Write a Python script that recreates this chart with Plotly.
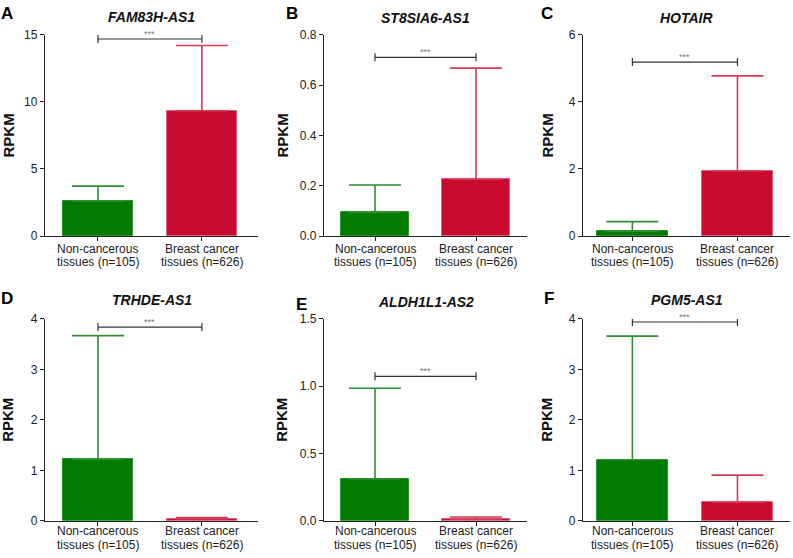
import plotly.graph_objects as go

W, H = 793, 558

letters = ["A", "B", "C", "D", "E", "F"]
genes = ["FAM83H-AS1", "ST8SIA6-AS1", "HOTAIR", "TRHDE-AS1", "ALDH1L1-AS2", "PGM5-AS1"]
cat_line1 = ["Non-cancerous", "Breast cancer"]
cat_line2 = ["tissues (n=105)", "tissues (n=626)"]
normal_mean = [2.62, 0.094, 0.14, 1.22, 0.31, 1.21]
normal_err_top = [3.72, 0.203, 0.43, 3.67, 0.985, 3.66]
cancer_mean = [9.35, 0.226, 1.94, 0.035, 0.012, 0.37]
cancer_err_top = [14.22, 0.668, 4.78, 0.065, 0.028, 0.905]
bracket_y = [14.7, 0.711, 5.19, 3.84, 1.074, 3.94]
sig_text = ["***"] * 6
y_title = "RPKM"
y_max = [15, 0.8, 6, 4, 1.5, 4]
y_dtick = [5, 0.2, 2, 1, 0.5, 1]
y_fmt = ["d", ".1f", "d", "d", ".1f", "d"]

GREEN = "#007a00"
RED = "#c80a2e"
GREEN_E = "#2e8f2e"
RED_E = "#d63a55"

# panel pixel boxes
cols = [(45, 258), (324, 527), (583, 790)]
rows = [(28.7, 234.9), (320, 527)]
label_off = [(13, 27), (10.5, 24.5)]
ytitle_x = [8, 282, 547]
xr = [(-0.51, 1.54), (-0.505, 1.505), (-0.47, 1.5)]
letter_pos = [(7, 7), (292, 7), (547, 7), (7, 299), (301, 305), (549, 299)]
title_y = [10, 11, 11, 301, 303, 301]

fig = go.Figure()
shapes = []
annotations = []
font = "Liberation Sans, Arial, sans-serif"

for i in range(6):
    r, c = divmod(i, 3)
    n = i + 1
    xa = "x" if n == 1 else f"x{n}"
    ya = "y" if n == 1 else f"y{n}"
    L, R = cols[c]
    T, B = rows[r]
    fig.add_trace(go.Bar(
        x=[0], y=[normal_mean[i]], xaxis=xa, yaxis=ya, width=0.67,
        marker=dict(color=GREEN, line=dict(color="#2a942a", width=1)),
        error_y=dict(type="data", symmetric=False,
                     array=[normal_err_top[i] - normal_mean[i]], arrayminus=[0],
                     color=GREEN_E, thickness=1.6, width=26),
        showlegend=False, hoverinfo="skip"))
    fig.add_trace(go.Bar(
        x=[1], y=[cancer_mean[i]], xaxis=xa, yaxis=ya, width=0.67,
        marker=dict(color=RED, line=dict(color="#e0607a", width=1)),
        error_y=dict(type="data", symmetric=False,
                     array=[cancer_err_top[i] - cancer_mean[i]], arrayminus=[0],
                     color=RED_E, thickness=1.6, width=26),
        showlegend=False, hoverinfo="skip"))
    # significance bracket
    fig.add_trace(go.Scatter(
        x=[0, 1], y=[bracket_y[i], bracket_y[i]], xaxis=xa, yaxis=ya,
        mode="lines", line=dict(color="#333333", width=1.2),
        showlegend=False, hoverinfo="skip"))
    for xv in (0, 1):
        shapes.append(dict(type="line", xref=xa, yref=ya, x0=xv, x1=xv,
                           ysizemode="pixel", yanchor=bracket_y[i], y0=-4, y1=4,
                           line=dict(color="#333333", width=1.2)))
    annotations.append(dict(xref=xa, yref=ya, x=0.5, y=bracket_y[i], text=sig_text[i],
                            showarrow=False, yanchor="bottom", yshift=-2,
                            font=dict(family=font, size=9, color="#777777")))
    annotations.append(dict(xref=f"{xa} domain", yref="paper", x=0.5,
                            y=1 - title_y[i] / H, text=f"<b><i>{genes[i]}</i></b>",
                            showarrow=False, yanchor="middle",
                            font=dict(family=font, size=14, color="#111111")))
    lx, ly = letter_pos[i]
    annotations.append(dict(xref="paper", yref="paper", x=lx / W, y=1 - ly / H,
                            text=f"<b>{letters[i]}</b>", showarrow=False,
                            xanchor="center", yanchor="middle",
                            font=dict(family=font, size=17, color="#000000")))
    # y-axis title
    annotations.append(dict(xref="paper", yref="paper", x=ytitle_x[c] / W,
                            y=1 - (T + B) / 2 / H, text=f"<b>{y_title}</b>",
                            textangle=-90, showarrow=False,
                            xanchor="center", yanchor="middle",
                            font=dict(family=font, size=15, color="#111111")))
    # category labels (two tight lines)
    o1, o2 = label_off[r]
    for k in range(2):
        annotations.append(dict(xref=xa, yref="paper", x=k, y=1 - (B + o1) / H,
                                text=cat_line1[k], showarrow=False, yanchor="middle",
                                borderpad=0,
                                font=dict(family=font, size=12, color="#222222")))
        annotations.append(dict(xref=xa, yref="paper", x=k, y=1 - (B + o2) / H,
                                text=cat_line2[k], showarrow=False, yanchor="middle",
                                borderpad=0,
                                font=dict(family=font, size=12, color="#222222")))
    xkey = "xaxis" if n == 1 else f"xaxis{n}"
    ykey = "yaxis" if n == 1 else f"yaxis{n}"
    fig.layout[xkey] = dict(
        domain=[L / W, R / W], anchor=ya, range=list(xr[c]),
        tickvals=[0, 1], showticklabels=False, showline=True, linecolor="#222222",
        linewidth=1.3, ticks="outside", ticklen=4, tickcolor="#222222",
        showgrid=False, zeroline=False, fixedrange=True)
    fig.layout[ykey] = dict(
        domain=[1 - B / H, 1 - T / H], anchor=xa, range=[0, y_max[i]],
        dtick=y_dtick[i], tickformat=y_fmt[i], showline=True, linecolor="#222222",
        linewidth=1.3, ticks="outside", ticklen=4, tickcolor="#222222",
        showgrid=False, zeroline=False, fixedrange=True,
        tickfont=dict(family=font, size=12, color="#222222"))

fig.update_layout(
    width=W, height=H, margin=dict(l=0, r=0, t=0, b=0),
    paper_bgcolor="white", plot_bgcolor="white",
    shapes=shapes, annotations=annotations, bargap=0,
    barmode="overlay")

fig.write_html("out.html", config={"displayModeBar": False},
               post_script="document.body.style.margin='0';")
